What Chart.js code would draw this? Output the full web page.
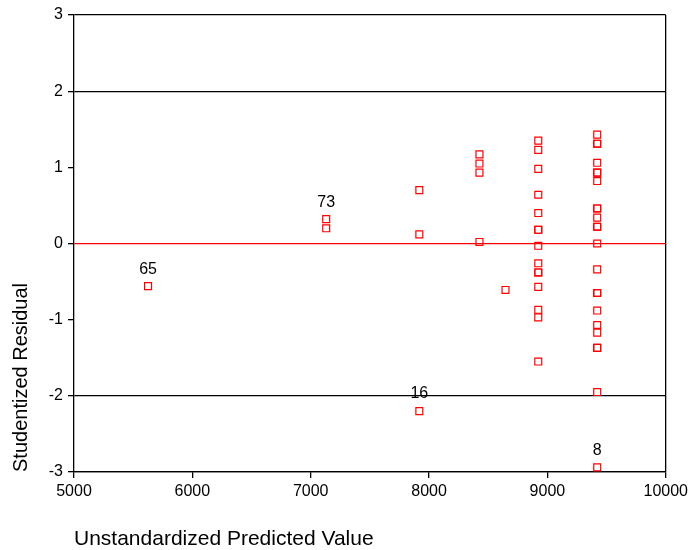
<!DOCTYPE html>
<html>
<head>
<meta charset="utf-8">
<script src="https://cdn.jsdelivr.net/npm/chart.js@4"></script>
<style>
  html, body { margin: 0; padding: 0; background: #fff; }
  #wrap { width: 692px; height: 550px; }
</style>
</head>
<body>
<div id="wrap"><canvas id="residChart"></canvas></div>
<script>
// predicted value (x), studentized residual (y), case label for outliers
const predicted = [
  5626, 7131, 7131, 7918, 7918, 7918,
  8426, 8426, 8426, 8426, 8646,
  8923, 8923, 8923, 8923, 8923, 8923, 8923, 8923, 8923, 8923, 8923, 8923, 8923, 8923, 8923,
  9421, 9421, 9421, 9421, 9421, 9421, 9421, 9421, 9421, 9421, 9421, 9421,
  9421, 9421, 9421, 9421, 9421, 9421, 9421, 9421, 9421, 9421, 9421
];
const residuals = [
  -0.56, 0.32, 0.20, 0.70, 0.12, -2.20,
  1.17, 1.05, 0.93, 0.02, -0.61,
  1.35, 1.23, 0.98, 0.64, 0.40, 0.18, 0.18, -0.03, -0.26, -0.38, -0.38, -0.57, -0.87, -0.97, -1.55,
  1.43, 1.31, 1.31, 1.06, 0.93, 0.93, 0.82, 0.46, 0.46, 0.34, 0.22, 0.22,
  0.00, -0.34, -0.65, -0.65, -0.88, -1.07, -1.17, -1.37, -1.37, -1.95, -2.94
];
const caseLabels = [
  '65', '73', '', '', '', '16',
  '', '', '', '', '',
  '', '', '', '', '', '', '', '', '', '', '', '', '', '', '',
  '', '', '', '', '', '', '', '', '', '', '', '',
  '', '', '', '', '', '', '', '', '', '', '8'
];
const xTicks = [5000, 6000, 7000, 8000, 9000, 10000];
const yTicks = [-3, -2, -1, 0, 1, 2, 3];

const FONT = "'Liberation Sans', Arial, sans-serif";

const caseLabelPlugin = {
  id: 'caseLabels',
  afterDatasetsDraw(chart) {
    const ctx = chart.ctx;
    const meta = chart.getDatasetMeta(0);
    ctx.save();
    ctx.font = "16px " + FONT;
    ctx.fillStyle = "#000";
    ctx.textAlign = "center";
    ctx.textBaseline = "middle";
    meta.data.forEach((pt, i) => {
      if (caseLabels[i]) ctx.fillText(caseLabels[i], pt.x, pt.y - 17);
    });
    ctx.restore();
  }
};

const ctx = document.getElementById("residChart").getContext("2d");
new Chart(ctx, {
  type: "scatter",
  data: {
    datasets: [{
      data: predicted.map((x, i) => ({ x: x, y: residuals[i] })),
      pointStyle: "rect",
      pointRadius: 4.9,
      borderWidth: 1.2,
      borderColor: "#ff0000",
      backgroundColor: "rgba(0,0,0,0)"
    }]
  },
  options: {
    responsive: true,
    maintainAspectRatio: false,
    animation: false,
    events: [],
    layout: { padding: { top: 15, right: 23, left: 0, bottom: 0 } },
    plugins: { legend: { display: false }, tooltip: { enabled: false } },
    scales: {
      x: {
        type: "linear",
        min: 5000, max: 10000,
        afterFit: s => { s.height = 78; },
        afterBuildTicks: s => { s.ticks = xTicks.map(v => ({ value: v })); },
        ticks: { color: "#000", font: { size: 16, family: FONT }, padding: 4, callback: v => String(v) },
        grid: {
          color: c => c.tick && c.tick.value === 10000 ? "#000" : "rgba(0,0,0,0)",
          tickColor: "#000",
          tickLength: 6,
          lineWidth: 1.3
        },
        border: { display: true, color: "#000", width: 1.3 },
        title: {
          display: true, text: "Unstandardized Predicted Value", align: "start",
          color: "#000", font: { size: 21, family: FONT }, padding: { top: 0, bottom: -2 }
        }
      },
      y: {
        type: "linear",
        min: -3, max: 3,
        afterFit: s => { s.width = 74; },
        afterBuildTicks: s => { s.ticks = yTicks.map(v => ({ value: v })); },
        ticks: { color: "#000", font: { size: 16, family: FONT }, padding: 5, callback: v => String(v) },
        grid: {
          color: c => {
            if (!c.tick) return "rgba(0,0,0,0)";
            if (c.tick.value === 0) return "#ff0000";
            if (Math.abs(c.tick.value) >= 2) return "#000";
            return "rgba(0,0,0,0)";
          },
          tickColor: "#000",
          tickLength: 6,
          lineWidth: 1.3
        },
        border: { display: true, color: "#000", width: 1.3 },
        title: {
          display: true, text: "Studentized Residual", align: "start",
          color: "#000", font: { size: 20, family: FONT }, padding: { top: 9, bottom: 0 }
        }
      }
    }
  },
  plugins: [caseLabelPlugin]
});
</script>
</body>
</html>
